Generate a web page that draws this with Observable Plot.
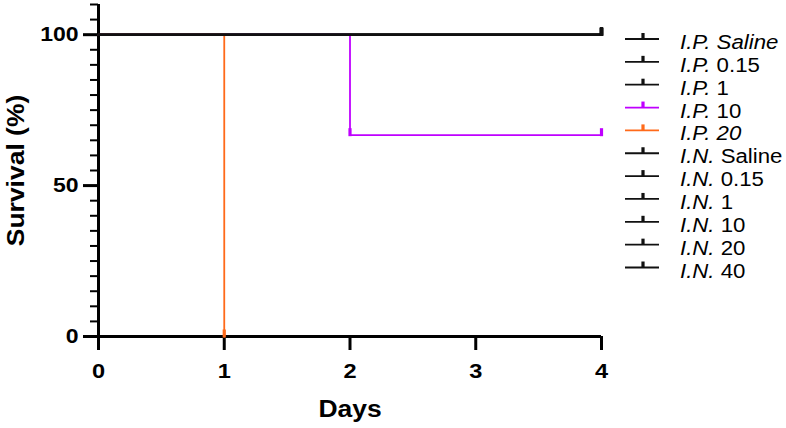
<!DOCTYPE html>
<html><head><meta charset="utf-8">
<script src="https://cdn.jsdelivr.net/npm/d3@7"></script>
<script src="https://cdn.jsdelivr.net/npm/@observablehq/plot@0.6"></script>
<style>
body{margin:0;background:#fff;}
#wrap{position:relative;width:786px;height:428px;font-family:"Liberation Sans",Arial,sans-serif;}
g[aria-label="y-axis label"], g[aria-label="x-axis label"]{font-size:23px;}
</style></head><body><div id="wrap"></div>
<script>
// ---- data ----
const groups = ["I.P. Saline","I.P. 0.15","I.P. 1","I.P. 10","I.P. 20","I.N. Saline","I.N. 0.15","I.N. 1","I.N. 10","I.N. 20","I.N. 40"];
const routes = ["I.P.","I.P.","I.P.","I.P.","I.P.","I.N.","I.N.","I.N.","I.N.","I.N.","I.N."];
const doses = ["Saline","0.15","1","10","20","Saline","0.15","1","10","20","40"];
const doseItalic = [true,false,false,false,true,false,false,false,false,false,false];
const groupColors = ["#111","#111","#111","#bf00ff","#ff6a1a","#111","#111","#111","#111","#111","#111"];
// step points of each Kaplan-Meier curve (days, survival %)
const stepDays = [[0,4],[0,4],[0,4],[0,2,4],[0,1],[0,4],[0,4],[0,4],[0,4],[0,4],[0,4]];
const stepSurvival = [[100,100],[100,100],[100,100],[100,66.7,66.7],[100,0],[100,100],[100,100],[100,100],[100,100],[100,100],[100,100]];
// censor marks
const censorDays = [[4],[4],[4],[2,4],[1],[4],[4],[4],[4],[4],[4]];
const censorSurvival = [[100],[100],[100],[66.7,66.7],[0],[100],[100],[100],[100],[100],[100]];
const xTicks = [0,1,2,3,4];
const yTicks = [0,50,100];
const yMinorTicks = [5,10,15,20,25,30,35,40,45,55,60,65,70,75,80,85,90,95,105,110];

// ---- tables ----
const stepRows = [], censorRows = [];
groups.forEach((g,i) => {
  stepDays[i].forEach((d,j) => stepRows.push({group:g, day:d, survival:stepSurvival[i][j]}));
  censorDays[i].forEach((d,j) => censorRows.push({group:g, day:d, survival:censorSurvival[i][j]}));
});

const censorSymbol = {draw(ctx){ ctx.rect(-1.6,-7,3.2,8); }};

const chart = Plot.plot({
  width:786, height:428,
  marginLeft:98, marginRight:185, marginTop:4, marginBottom:92,
  x:{domain:[0,4]},
  y:{domain:[0,110]},
  color:{domain:groups, range:groupColors},
  style:{fontFamily:"'Liberation Sans', Arial, sans-serif", color:"#000", background:"transparent", overflow:"visible"},
  marks:[
    Plot.ruleX([0], {strokeWidth:3}),
    Plot.ruleY([0], {strokeWidth:3}),
    Plot.axisY(yMinorTicks, {tickSize:8, strokeWidth:2, text:null, label:null}),
    Plot.axisY(yTicks, {tickSize:15, tickPadding:5, strokeWidth:3, fontSize:20, fontWeight:"bold", tickFormat:d => String(d),
      label:"Survival (%)", labelAnchor:"center", labelArrow:"none", labelOffset:91}),
    Plot.axisX(xTicks, {tickSize:14, tickPadding:13, strokeWidth:3, fontSize:20.5, fontWeight:"bold", tickFormat:d => String(d),
      label:"Days", labelAnchor:"center", labelArrow:"none", labelOffset:80}),
    Plot.line(stepRows, {x:"day", y:"survival", z:"group", stroke:"group", curve:"step-after", strokeWidth:1.8}),
    Plot.dot(censorRows, {x:"day", y:"survival", fill:"group", symbol:censorSymbol})
  ]
});
const wrap = document.getElementById("wrap");
wrap.appendChild(chart);

// ---- legend ----
const leg = d3.select(wrap).append("svg")
  .attr("width",171).attr("height",270)
  .style("position","absolute").style("left","615px").style("top","20px")
  .style("font-family","'Liberation Sans', Arial, sans-serif");
groups.forEach((g,i) => {
  const y = 19 + i*22.85;
  const c = groupColors[i];
  leg.append("line").attr("x1",10).attr("x2",44).attr("y1",y).attr("y2",y).attr("stroke",c).attr("stroke-width",1.8);
  leg.append("rect").attr("x",26.4).attr("y",y-6).attr("width",3.2).attr("height",6).attr("fill",c);
  const t = leg.append("text").attr("x",65).attr("y",y+10).attr("font-size",20).attr("fill","#000");
  t.append("tspan").attr("font-style","italic").text(routes[i]);
  t.append("tspan").attr("font-style", doseItalic[i] ? "italic" : "normal").text(" " + doses[i]);
});

// widen glyphs slightly to match the reference typeface proportions
function stretch(root, k){
  root.querySelectorAll("text").forEach(t => {
    const len = t.getComputedTextLength();
    if (len > 0) { t.setAttribute("textLength", len*k); t.setAttribute("lengthAdjust","spacingAndGlyphs"); }
  });
}
stretch(chart, 1.15);
stretch(leg.node(), 1.11);
</script></body></html>
